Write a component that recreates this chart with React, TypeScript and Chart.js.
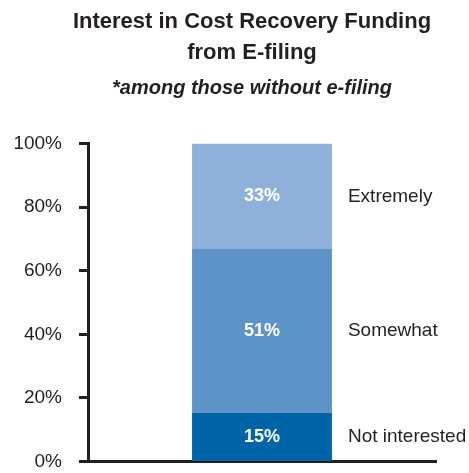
import React, { useEffect, useRef } from "react";
import { Chart, registerables } from "chart.js";

Chart.register(...registerables);

const titleLines = ["Interest in Cost Recovery Funding", "from E-filing"];
const subtitleText = "*among those without e-filing";
const categories = [""];
const seriesNames = ["Not interested", "Somewhat", "Extremely"];
const seriesValues = [15.3, 51.5, 33.2];
const seriesLabels = ["15%", "51%", "33%"];
const seriesColors = ["#0065a8", "#5e93c7", "#8fb0db"];
const yTicks = [0, 20, 40, 60, 80, 100];

const FONT = "'Liberation Sans', Arial, Helvetica, sans-serif";
const INK = "#231f20";

const segmentLabels = {
  id: "segmentLabels",
  afterDatasetsDraw(chart: any) {
    const ctx = chart.ctx;
    ctx.save();
    chart.data.datasets.forEach((ds: any, i: number) => {
      const meta = chart.getDatasetMeta(i);
      const bar: any = meta.data[0];
      if (!bar) return;
      const props = bar.getProps(["x", "y", "base", "width"], true);
      const cy = (props.y + props.base) / 2;
      ctx.textBaseline = "middle";
      ctx.textAlign = "center";
      ctx.fillStyle = "#ffffff";
      ctx.font = `bold 18px ${FONT}`;
      ctx.fillText(seriesLabels[i], props.x, cy);
      ctx.textAlign = "left";
      ctx.fillStyle = INK;
      ctx.font = `19px ${FONT}`;
      ctx.fillText(ds.label, props.x + props.width / 2 + 16, cy);
    });
    ctx.restore();
  },
};

export default function App() {
  const ref = useRef<HTMLCanvasElement | null>(null);
  useEffect(() => {
    if (!ref.current) return;
    const chart = new Chart(ref.current, {
      type: "bar",
      data: {
        labels: categories,
        datasets: seriesNames.map((name, i) => ({
          label: name,
          data: [seriesValues[i]],
          backgroundColor: seriesColors[i],
          borderWidth: 0,
          barPercentage: 0.402,
          categoryPercentage: 1,
        })),
      },
      options: {
        responsive: false,
        animation: false,
        events: [],
        layout: { padding: { left: 0, right: 0, top: 0, bottom: 11.5 } },
        plugins: {
          legend: { display: false },
          tooltip: { enabled: false },
          title: {
            display: true,
            text: titleLines,
            color: INK,
            font: { family: FONT, size: 22, weight: "bold", lineHeight: 31 / 22 },
            padding: { top: 6, bottom: 4 },
          },
          subtitle: {
            display: true,
            text: subtitleText,
            color: INK,
            font: { family: FONT, size: 20, weight: "bold", style: "italic", lineHeight: 1.2 },
            padding: { top: 4, bottom: 43.5 },
          },
        },
        scales: {
          x: {
            type: "category",
            stacked: true,
            offset: true,
            grid: { display: false, drawTicks: false },
            ticks: { display: false },
            border: { display: true, width: 3, color: INK },
            afterFit: (s: any) => {
              s.height = 0;
              s.paddingLeft = 0;
              s.paddingRight = 0;
            },
          },
          y: {
            stacked: true,
            position: "left",
            min: 0,
            max: 100,
            afterBuildTicks: (s: any) => {
              s.ticks = yTicks.map((v) => ({ value: v }));
            },
            ticks: {
              callback: (v: any) => `${v}%`,
              color: INK,
              padding: 17,
              font: { family: FONT, size: 19 },
            },
            grid: {
              drawOnChartArea: false,
              drawTicks: true,
              tickLength: 9,
              tickWidth: 3,
              tickColor: INK,
            },
            border: { display: true, width: 3, color: INK },
            afterFit: (s: any) => {
              s.width = 88;
              s.paddingTop = 0;
              s.paddingBottom = 0;
            },
          },
          yRightSpace: {
            type: "linear",
            position: "right",
            display: true,
            min: 0,
            max: 100,
            ticks: { display: false },
            grid: { display: false, drawTicks: false },
            border: { display: false },
            afterFit: (s: any) => {
              s.width = 68;
              s.paddingTop = 0;
              s.paddingBottom = 0;
            },
          },
        },
      },
      plugins: [segmentLabels],
    });
    return () => chart.destroy();
  }, []);
  return (
    <div
      style={{
        position: "fixed",
        left: 0,
        top: 0,
        width: 469,
        height: 473,
        overflow: "hidden",
        background: "#fff",
      }}
    >
      <canvas ref={ref} width={504} height={473} style={{ display: "block" }} />
    </div>
  );
}
